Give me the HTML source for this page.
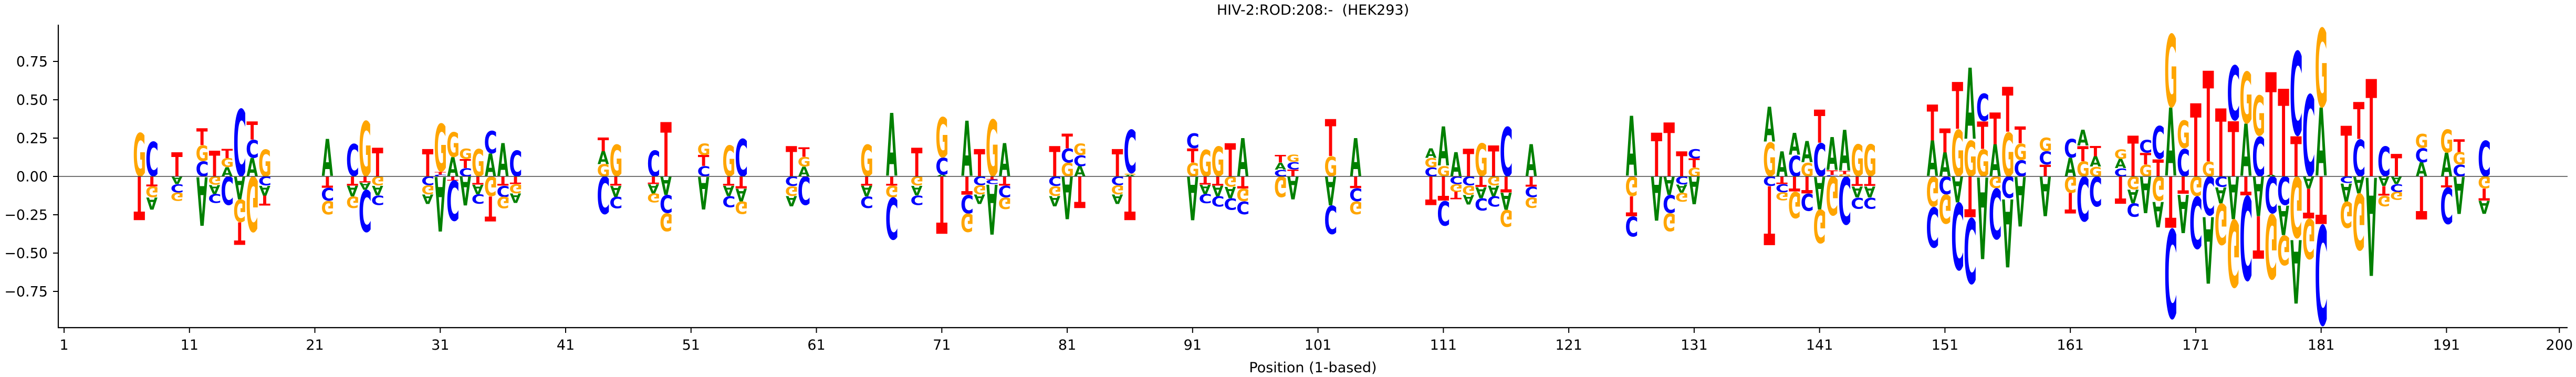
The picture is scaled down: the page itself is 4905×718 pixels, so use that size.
<!DOCTYPE html>
<html><head><meta charset="utf-8">
<style>
html,body{margin:0;padding:0;background:#fff;}
svg{display:block;}
text{font-family:"DejaVu Sans","Liberation Sans",sans-serif;}
</style></head>
<body>
<svg id="chart" width="4905" height="718" viewBox="0 0 4905 718" xmlns="http://www.w3.org/2000/svg">
  <text x="2500" y="28" font-size="27" text-anchor="middle" fill="#000" style="white-space:pre" xml:space="preserve">HIV-2:ROD:208:-  (HEK293)</text>
  <g id="logo"></g>
  <g id="axes"></g>
  <text x="2500" y="709" font-size="27" text-anchor="middle" fill="#000">Position (1-based)</text>
</svg>
<script>
const positions = [7,8,10,12,13,14,15,16,17,22,24,25,26,30,31,32,33,34,35,36,37,44,45,48,49,52,54,55,59,60,65,67,69,71,73,74,75,76,80,81,82,85,86,91,92,93,94,95,98,99,102,104,110,111,112,113,114,115,116,118,126,128,129,130,131,137,138,139,140,141,142,143,144,145,150,151,152,153,154,155,156,157,159,161,162,163,165,166,167,168,169,170,171,172,173,174,175,176,177,178,179,180,181,183,184,185,186,187,189,191,192,194];
const valuesA = [0,-0.08,-0.05,-0.32,-0.058,0.06,-0.15,0.12,-0.065,0.245,-0.07,-0.047,-0.064,-0.064,-0.36,0.126,-0.19,-0.062,0.15,0.216,-0.064,0.085,-0.073,-0.06,-0.12,-0.215,-0.068,-0.084,-0.067,0.064,-0.07,0.415,-0.064,0.01,0.364,-0.062,-0.33,0.216,-0.067,-0.28,0.068,-0.062,0.01,-0.286,-0.06,-0.07,-0.075,0.25,0.046,-0.148,-0.19,0.25,0.064,0.257,0.158,-0.064,-0.073,-0.07,-0.112,0.21,0.396,-0.29,-0.12,-0.055,-0.183,0.23,0.165,0.144,0.14,-0.215,0.216,0.27,-0.073,-0.073,0.235,0.158,-0.17,0.47,-0.54,0.21,-0.45,-0.327,-0.26,0.122,0.103,0.068,0.06,-0.09,-0.24,-0.167,0.45,-0.254,0,-0.44,-0.107,-0.28,0.345,-0.26,0.01,-0.195,-0.42,-0.08,0.45,-0.12,-0.11,-0.65,-0.063,-0.05,0.092,0.155,-0.245,-0.086];
const valuesC = [0,0.23,-0.055,0.10,-0.06,-0.19,0.45,0.12,-0.06,-0.085,0.215,-0.28,-0.064,-0.058,0.012,-0.27,0.055,-0.064,0.15,-0.073,0.175,-0.25,-0.077,0.175,-0.12,0.068,-0.073,0.25,-0.064,-0.19,-0.077,-0.28,-0.064,0.113,-0.122,-0.058,-0.03,-0.077,-0.064,0.094,0.071,-0.058,0.29,0.1,-0.062,-0.07,-0.077,-0.086,0.044,0.049,-0.19,-0.086,0.059,-0.165,-0.05,-0.06,-0.08,-0.07,0.33,-0.07,-0.135,0,-0.12,-0.052,0.062,-0.064,-0.054,0.14,-0.116,0.22,0.01,-0.32,-0.073,-0.073,-0.27,-0.118,-0.45,-0.44,0.184,-0.34,-0.144,0.107,0.088,0.126,-0.3,-0.2,0.054,-0.09,0.085,0.22,-0.6,0.184,-0.35,-0.26,-0.07,0.368,-0.566,0.265,-0.245,-0.19,0.565,0.547,-0.67,-0.044,0.245,0,0.2,-0.05,0.094,-0.243,0.077,0.24];
const valuesG = [0.29,-0.072,-0.056,0.105,-0.056,0.06,-0.15,-0.37,0.18,-0.09,-0.077,0.37,-0.06,-0.06,0.32,0.167,0.07,0.184,-0.13,-0.077,-0.06,0.08,0.21,-0.06,-0.12,0.077,0.206,-0.084,-0.064,0.064,0.21,-0.077,-0.06,0.27,-0.122,-0.06,0.38,-0.077,-0.064,0.09,0.077,-0.06,0.01,0.09,0.178,0.2,-0.067,-0.084,-0.138,0.049,0.133,-0.086,0.062,0.068,-0.05,-0.06,0.22,-0.06,-0.113,-0.07,-0.13,0,-0.12,-0.057,0.058,0.225,-0.054,-0.176,0.09,-0.225,-0.26,0.015,0.214,0.214,-0.2,-0.196,0.31,0.24,0.18,-0.077,0.293,0.11,0.09,-0.108,0.1,0.064,0.064,-0.086,0.077,-0.163,0.49,0.185,-0.13,0.098,-0.277,-0.454,0.347,0.27,-0.435,-0.2,-0.41,-0.27,0.53,-0.176,-0.38,0,-0.07,-0.053,0.094,0.156,0.083,-0.078];
const valuesT = [-0.29,-0.066,0.16,0.11,0.17,0.06,-0.15,0.12,-0.065,-0.075,-0.06,-0.04,0.19,0.18,0.018,-0.026,0.058,-0.054,-0.165,-0.06,-0.05,0.09,-0.06,-0.05,0.36,0.072,-0.06,-0.08,0.2,0.064,-0.06,-0.06,0.19,-0.38,-0.12,0.18,-0.02,-0.06,0.2,0.097,-0.21,0.18,-0.29,0.093,-0.054,-0.06,0.22,-0.08,0.05,0.046,0.245,-0.077,-0.19,-0.16,-0.05,0.184,-0.07,0.206,-0.105,-0.067,-0.13,0.29,0.357,0.165,0.06,-0.39,-0.05,-0.1,-0.112,0.22,0.03,0.02,-0.064,-0.064,0.238,0.158,0.31,-0.27,0.18,0.21,0.296,0.11,0.077,-0.136,0.1,0.068,-0.18,0.268,0.077,0.113,-0.34,-0.116,0.484,0.6,0.45,0.365,-0.125,-0.28,0.68,0.58,0.265,-0.196,-0.315,0.335,0.245,0.645,-0.064,0.15,-0.284,-0.072,0.083,-0.08];
const yTickValues = [-0.75,-0.5,-0.25,0,0.25,0.5,0.75];
const yTickLabels = ["\u22120.75","\u22120.50","\u22120.25","0.00","0.25","0.50","0.75"];
const xTickValues = [1,11,21,31,41,51,61,71,81,91,101,111,121,131,141,151,161,171,181,191,200];

const NS = "http://www.w3.org/2000/svg";
const X0 = 122, DX = 23.876, Y0 = 336, UNIT = 292;
const xScale = p => X0 + (p - 1) * DX;
const yScale = v => Y0 - v * UNIT;
const COLORS = {A:"#008000", C:"#0000ff", G:"#ffa500", T:"#ff0000"};
const FONT = 'bold 100px "DejaVu Sans", "Liberation Sans", sans-serif';

const ctx = document.createElement("canvas").getContext("2d");
ctx.font = FONT;
const metrics = {};
["A","C","G","T"].forEach(L => {
  const m = ctx.measureText(L);
  let l = m.actualBoundingBoxLeft, r = m.actualBoundingBoxRight, a = m.actualBoundingBoxAscent, d = m.actualBoundingBoxDescent;
  if (!(a > 0)) { a = 73; d = (L==="C"||L==="G") ? 1.5 : 0; l = -4; r = (L==="T"?62:72); }
  metrics[L] = {l, r, a, d};
});

const logo = document.getElementById("logo");
const width = DX * 0.9;
positions.forEach((p, i) => {
  const vals = {A: valuesA[i], C: valuesC[i], G: valuesG[i], T: valuesT[i]};
  const pos = [], neg = [];
  Object.keys(vals).forEach(L => { if (vals[L] > 0) pos.push(L); else if (vals[L] < 0) neg.push(L); });
  pos.sort((a,b) => vals[a] - vals[b]);
  neg.sort((a,b) => vals[b] - vals[a]);
  const cx = xScale(p), x0 = cx - width / 2;
  let acc = 0;
  pos.forEach(L => {
    const v = vals[L];
    const yb = yScale(acc), yt = yScale(acc + v);
    acc += v;
    const m = metrics[L], h = yb - yt;
    const sx = width / (m.l + m.r), sy = h / (m.a + m.d);
    const t = document.createElementNS(NS, "text");
    
    
    t.setAttribute("font-size", "100");
    t.setAttribute("font-weight", "bold");
    t.setAttribute("fill", COLORS[L]);
    t.setAttribute("transform", `translate(${x0 + m.l*sx},${yt + m.a*sy}) scale(${sx},${sy})`);
    t.textContent = L;
    logo.appendChild(t);
  });
  acc = 0;
  neg.forEach(L => {
    const v = -vals[L];
    const yt = yScale(-acc), yb = yScale(-(acc + v));
    acc += v;
    const m = metrics[L], h = yb - yt;
    const sx = width / (m.l + m.r), sy = h / (m.a + m.d);
    const t = document.createElementNS(NS, "text");
    
    
    t.setAttribute("font-size", "100");
    t.setAttribute("font-weight", "bold");
    t.setAttribute("fill", COLORS[L]);
    t.setAttribute("transform", `translate(${x0 + m.l*sx},${yt + m.d*sy}) scale(${sx},${-sy})`);
    t.textContent = L;
    logo.appendChild(t);
  });
});

const axes = document.getElementById("axes");
function line(x1,y1,x2,y2,w,c,name){
  const l = document.createElementNS(NS,"line");
  
  
  l.setAttribute("x1",x1);l.setAttribute("y1",y1);l.setAttribute("x2",x2);l.setAttribute("y2",y2);
  l.setAttribute("stroke",c);l.setAttribute("stroke-width",w);
  axes.appendChild(l);
}
const XL = 111, XR = 4889, YT = 47, YB = 624;
line(XL, yScale(0), XR, yScale(0), 1.5, "#444", "zero-line");
line(XL, YT, XL, YB+1, 2.2, "#000", "y-axis-spine");
line(XL-1, YB, XR, YB, 2.2, "#000", "x-axis-spine");
yTickValues.forEach((v,i) => {
  const y = yScale(v);
  line(XL-10, y, XL, y, 2, "#000", "y-tick");
  const t = document.createElementNS(NS,"text");
  
  
  t.setAttribute("x", XL-20); t.setAttribute("y", y+9.5);
  t.setAttribute("font-size","27"); t.setAttribute("text-anchor","end");
  t.textContent = yTickLabels[i];
  axes.appendChild(t);
});
xTickValues.forEach(p => {
  const x = xScale(p);
  line(x, YB, x, YB+10, 2, "#000", "x-tick");
  const t = document.createElementNS(NS,"text");
  
  
  t.setAttribute("x", x); t.setAttribute("y", 666);
  t.setAttribute("font-size","27"); t.setAttribute("text-anchor","middle");
  t.textContent = String(p);
  axes.appendChild(t);
});
</script>
</body></html>
